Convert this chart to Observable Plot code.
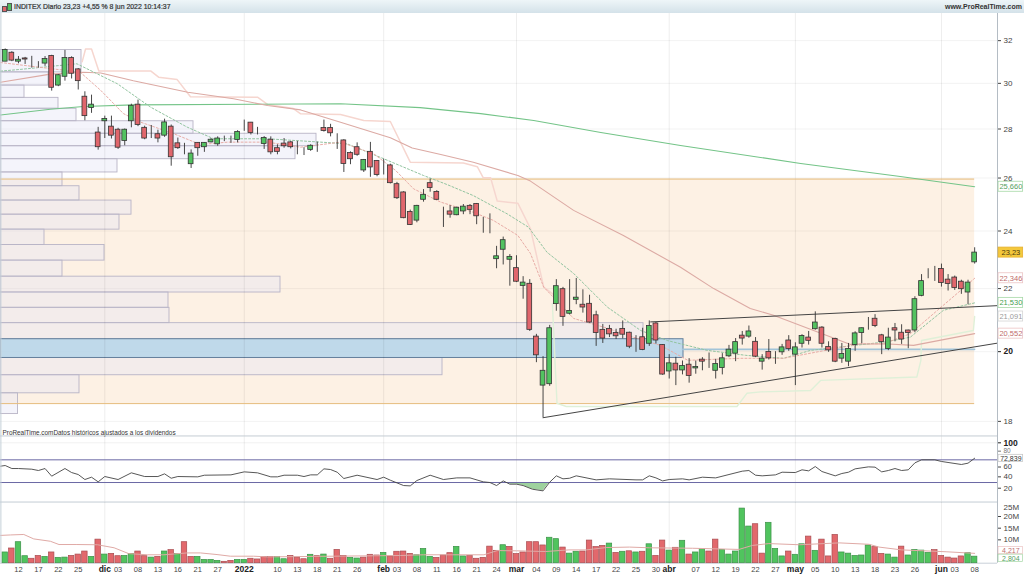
<!DOCTYPE html>
<html><head><meta charset="utf-8">
<script src="https://cdn.jsdelivr.net/npm/d3@7"></script>
<script src="https://cdn.jsdelivr.net/npm/@observablehq/plot@0.6"></script>
<style>
html,body{margin:0;padding:0;background:#fff;width:1024px;height:576px;overflow:hidden;font-family:"Liberation Sans",sans-serif}
#hdr{position:relative;height:13px;background:linear-gradient(#eef5f8,#d4e2e9);line-height:12px;color:#333}
#hdr .t{position:absolute;left:14px;top:0.5px;white-space:nowrap;font-size:6.9px;-webkit-text-stroke:.2px #333}
#hdr .w{position:absolute;right:2px;top:0.5px;white-space:nowrap;font-size:7px;font-weight:bold}
#hdr i{position:absolute;display:block;border:0.5px solid #555}
svg{display:block}
</style></head><body>
<div id="hdr"><i style="left:2px;top:6px;width:3px;height:4px;background:#e0656a"></i><i style="left:7px;top:3px;width:3px;height:6px;background:#50c060"></i>
<span class="t">INDITEX Diario 23,23 +4,55 % 8 jun 2022 10:14:37</span><span class="w">www.ProRealTime.com</span></div>
<div id="chart"></div>
<script>
// ---- candles (index 0..146) ----
const opens=[31.0,31.42,31.0,31.15,31.13,30.9,30.91,31.27,29.9,30.3,31.17,30.64,29.4,28.9,27.85,28.33,28.1,27.97,27.5,28.33,29.05,28.05,27.74,27.78,27.72,28.1,27.4,27.18,26.55,27.42,27.24,27.44,27.36,27.6,27.6,27.54,27.99,28.27,27.85,27.37,27.55,27.2,27.39,27.44,27.28,27.13,27.13,27.24,28.04,28.04,27.5,
27.52,27.0,27.24,26.3,27.05,26.68,26.4,26.5,25.76,25.44,24.7,24.38,25.16,25.8,25.46,24.79,24.72,24.58,24.72,24.93,25.0,24.08,24.06,23.0,23.33,22.98,22.69,22.09,22.16,20.46,19.0,19.04,21.49,21.98,21.18,21.63,21.47,21.5,21.13,20.67,20.7,20.57,20.7,20.58,20.3,20.44,20.24,20.87,20.2,
19.41,19.64,19.44,19.61,19.5,19.76,19.66,19.43,19.51,19.86,19.94,20.49,20.46,20.3,19.7,19.99,19.82,19.98,20.34,19.91,20.24,20.43,20.69,20.74,20.14,20.39,19.79,19.7,20.2,20.57,20.9,21.02,20.5,20.08,20.72,20.58,20.65,20.65,21.76,22.47,22.35,22.66,22.3,22.37,22.23,21.87,22.89];
const highs=[31.6,31.47,31.24,31.2,31.25,31.0,31.24,31.3,30.4,31.53,31.23,30.68,29.62,29.47,28.07,28.55,28.55,28.03,28.0,29.07,29.25,28.12,28.15,27.95,28.42,28.17,27.62,27.4,27.13,27.43,27.43,27.6,27.67,27.7,27.7,27.93,28.38,28.28,28.07,27.68,27.67,27.34,27.6,27.48,27.48,27.22,27.34,27.45,28.38,28.2,27.8,
27.55,27.05,27.42,26.74,27.44,26.7,26.75,26.55,25.83,25.47,24.77,24.95,25.55,25.96,25.51,24.88,24.94,24.88,24.98,24.98,25.02,24.5,24.63,23.45,23.78,23.16,23.12,22.4,22.3,20.53,19.85,20.81,22.3,22.04,22.3,22.34,21.96,21.78,21.26,20.84,20.81,20.69,20.95,20.6,20.49,20.72,20.95,20.9,20.21,
19.91,19.83,19.72,19.79,19.72,19.82,19.96,19.77,19.94,20.19,20.4,20.62,20.79,20.43,19.91,20.37,20.0,20.22,20.49,20.27,20.52,20.62,21.24,20.77,20.3,20.41,20.25,20.25,20.61,20.73,21.06,21.15,20.53,20.72,20.87,20.83,20.66,21.73,22.47,22.67,22.75,22.83,22.47,22.42,22.28,22.28,23.4];
const lows=[31.0,31.0,30.9,30.87,30.7,30.7,30.78,29.65,29.85,30.1,30.2,29.7,28.35,28.67,27.12,27.6,27.58,27.15,27.3,28.05,28.1,27.55,27.6,27.42,27.65,26.47,27.15,26.93,26.38,26.87,27.03,27.42,27.28,27.47,27.4,27.42,27.9,27.75,27.75,27.15,26.93,26.93,27.2,27.17,26.93,26.9,27.07,27.03,27.87,27.67,27.15,
26.22,26.53,26.87,26.22,26.03,26.05,26.12,25.77,25.17,24.45,24.2,24.3,25.07,25.45,25.13,24.13,24.47,24.56,24.6,24.6,24.23,23.92,23.9,22.67,22.8,22.08,22.2,21.65,20.62,19.67,18.1,18.98,21.26,20.78,21.14,21.47,21.2,20.88,20.16,20.25,20.43,20.37,20.39,20.09,19.98,20.03,20.16,20.23,19.3,
19.19,19.0,19.31,19.07,19.33,19.43,19.5,19.19,19.31,19.82,19.7,20.2,20.41,19.82,19.45,19.75,19.62,19.89,20.01,19.0,20.11,20.2,20.66,20.11,19.98,19.67,19.65,19.55,20.01,20.24,20.66,20.74,19.91,20.03,20.3,20.22,20.09,20.58,21.73,22.33,22.24,22.05,21.92,21.94,21.81,21.47,22.83];
const closes=[31.55,31.05,31.09,31.1,31.13,30.9,31.12,29.8,30.37,31.17,30.44,30.1,28.55,29.05,27.24,28.43,27.72,27.22,27.97,29.0,28.17,27.6,27.74,27.6,28.28,26.83,27.2,27.18,26.98,27.2,27.42,27.55,27.6,27.6,27.6,27.87,27.99,27.83,27.85,27.62,27.03,27.05,27.28,27.24,27.28,27.13,27.3,27.24,27.92,27.82,27.5,
26.56,26.75,26.93,26.72,26.42,26.12,26.4,25.8,25.22,24.47,24.22,24.93,25.35,25.61,25.16,24.79,24.6,24.86,24.9,24.78,24.54,24.08,24.06,23.1,23.67,23.08,22.23,22.2,20.67,19.89,19.43,20.72,22.08,21.08,21.27,21.7,21.38,20.9,20.57,20.4,20.53,20.47,20.52,20.15,20.3,20.05,20.79,20.34,19.32,
19.65,19.44,19.57,19.28,19.54,19.7,19.66,19.63,19.8,20.06,20.29,20.4,20.62,19.85,19.79,19.8,19.82,20.13,20.08,20.13,20.48,20.33,20.9,20.24,20.04,19.7,19.93,20.08,20.56,20.72,20.9,20.79,20.29,20.43,20.65,20.37,20.57,21.65,22.25,22.47,22.35,22.19,22.15,22.02,21.98,22.2,23.23];
// ---- volume (millions) ----
const volumes=[4.6,6.3,9.0,3.0,1.9,3.1,2.7,4.6,2.3,2.4,3.1,3.7,5.0,2.7,10.1,3.7,4.0,3.0,3.1,4.0,5.0,3.0,2.4,2.7,5.0,5.6,3.9,9.0,2.7,2.7,1.4,1.4,1.0,0.6,1.0,1.4,1.4,1.9,1.6,2.6,2.6,2.6,1.7,3.1,2.4,1.7,3.6,3.0,3.7,1.9,5.7,3.1,2.3,2.0,2.4,3.6,3.3,4.4,2.9,4.9,5.0,4.0,3.4,6.1,2.7,2.3,3.3,4.3,7.0,2.9,3.1,1.9,2.3,7.1,5.3,7.7,7.0,
3.9,4.6,9.0,9.0,7.6,10.9,10.3,6.7,4.1,4.9,5.0,9.7,6.9,7.4,8.4,4.4,4.9,5.1,4.6,4.9,8.1,3.1,9.7,5.4,6.6,9.6,3.7,4.6,6.0,5.0,10.1,5.7,3.7,5.0,23.4,15.7,16.7,4.1,17.3,6.1,2.9,5.0,3.6,8.1,11.4,5.3,10.1,2.9,12.1,4.6,4.1,3.1,3.3,7.6,6.9,4.0,3.7,2.4,7.1,3.3,5.7,5.4,4.4,5.6,3.1,2.4,2.0,2.9,4.3,2.8];
const volUp=[1,0,1,1,0,0,1,0,1,1,0,0,0,1,0,1,0,0,1,1,0,0,1,0,1,0,1,0,0,1,1,1,1,0,0,1,1,0,0,0,0,1,1,0,0,0,1,0,1,0,0,0,1,1,0,0,0,1,0,0,0,0,1,1,1,0,0,0,1,1,0,0,0,0,0,1,0,
0,0,0,0,0,1,1,0,1,1,0,0,0,0,1,0,1,0,1,0,1,0,0,1,0,1,0,1,1,0,0,1,1,1,1,1,0,0,1,1,1,0,1,1,0,1,0,0,0,1,1,1,1,1,0,0,1,1,0,1,1,1,1,0,0,0,0,0,1,1];
const volMaI=[-0.7,0.8,2.8,4.3,6.8,8.1,10.8,13.9,16.4,18.6,21.4,23.9,27.4,29.4,31.9,33.9,37.4,39.5,59.5,63,72.1,74.1,77,81.4,84.9,87.5,90.5,94,97,103.5,110.5,112.5,115,119.6,125.6,130.1,131.6,135,141.7,146];
const volMaV=[11.9,12.1,12.3,10.4,9.4,8,8,7.9,6.6,4.1,3.6,3.6,4.4,4.4,3.7,3,3,2.7,3.3,3.6,3.6,5.4,5.3,5,5.7,5.7,6.7,6.9,6.6,6.4,5.9,7.6,8.4,7.9,8.7,8.1,6.9,5.7,4.9,4.217];
// ---- RSI ----
const rsiI=[-0.7,0,1,2,4,5,6,7,9,10,11,12,13,14,15,17,19,21,23,24,25,26,29,30,34,36,38,40,41,42,44,45,46,47,48,49,50,51,53,56,57,58,60,61,62,64,66,68,70,72,73,74,75,76,77,78,79.4,81,82,83,84,85,86,89,91,95,96,97,98,99,100,102,103,105,107,109,111,112,113,114,116,117,119,120,121,122,123,125,126,127,128,130,131,132,133,134,135,136,137,138,140,141,144,145,146];
const rsiV=[58.8,60,54.7,54.7,53.5,51.2,54.7,41.2,54.7,47.6,44.1,35.3,39.4,31.2,40.6,35.3,47.1,40.6,40.6,45.3,37.6,40.6,40,42.9,43.5,48.8,47.1,40,40,42.9,42.9,40.6,43.5,43.5,54.1,52.9,48.2,37.1,42.9,35.3,39.4,34.1,24.7,24.1,33.5,42.9,35.3,38.2,38.2,31.2,30,24.7,32.9,27.1,27.1,24.7,18.2,15.3,30.6,41.8,36.5,37.6,41.8,34.7,36.5,34.7,34.7,41.8,38.2,32.9,35.3,36.5,34.7,39.4,38.2,44.1,50,51.2,42.9,41.8,43.5,48.2,47.6,52.4,50.6,58.2,49.4,41.8,45.9,48.2,54.1,57.6,57.1,48.8,51.2,54.7,51.2,52.4,64.7,70,70,67.1,61.8,64.1,72.84];
// ---- moving averages on price ----
const sma200I=[-0.7,6.8,11.8,19.3,50.5,62.5,71.6,79.6,89.7,101.7,119.8,134.8,146];
const sma200V=[28.6,28.85,28.97,29.04,29.09,28.92,28.66,28.36,27.85,27.31,26.58,26.06,25.66];
const sma100I=[-0.7,6.8,11.8,14.4,19.3,27.5,34.4,39.5,44.5,50.5,58,61.3,65.6,70.5,77.2,79.1,85.6,93.1,101.7,106.7,112.2,115.7,127.3,132.3,136.8,146];
const sma100V=[30.05,30.42,30.51,30.47,30.12,29.6,29.31,29.01,28.82,28.29,27.63,27.21,26.94,26.63,26.1,25.88,24.76,23.84,22.72,22,21.35,21.13,20.22,20.24,20.19,20.552];
const ema50I=[-0.7,2.3,10.8,16.9,21.9,27.4,31.4,39.5,47.5,51.5,57,63,66.6,70.5,75.6,78.8,81.6,85.6,90.7,95.7,99.7,105.7,111.5,117.2,121.3,132.3,136.3,141.3,146];
const ema50V=[30.56,30.64,30.9,29.98,28.94,28.08,27.59,27.59,27.45,27.38,26.77,26.1,25.74,25.32,24.63,24.14,23.24,22.51,21.39,20.65,20.34,20.04,19.89,19.8,20.04,20.29,20.44,21.29,21.53];
const ema20I=[-0.7,11.3,14.4,17.8,20.4,25.3,29.4,33.5,39.5,44.5,50.5,55.5,58.8,61.5,65.6,70.5,73.5,77.2,79.1,81.1,85.6,90.7,94.6,98.7,102.8,110.7,117.2,128.8,132.3,136.3,140.4,143.9,146];
const ema20V=[30.96,30.51,29.68,28.66,28.29,27.81,27.35,27.45,27.45,27.24,27.45,26.97,26.3,25.58,25.07,24.69,24.39,23.84,23.2,22.05,21.03,20.72,20.44,20.19,19.74,19.8,19.8,20.24,20.24,20.55,21.29,21.94,22.346];
const stopDownI=[11.6,12.1,13,14.1,21.9,23.1,25.9,27.9,38,39.5,43.4,44.5,50.5,54,58,61,69,71.1,72,73.1,74.1,77.2,79.1,81.1,83.2];
const stopDownV=[31,31.6,31.6,30.57,30.57,30.28,30.17,29.4,29.38,29.06,28.88,28.65,28.62,28.36,28.32,26.63,26.6,26.45,26.01,26.01,25.11,25.03,24.09,22.05,21.7];
const stopUpI=[82.4,83.1,84.5,110.2,111.7,113.8,121.3,122.8,137.3,137.9,138,145.8,146];
const stopUpV=[21.51,18.5,18.41,18.41,18.78,18.82,18.86,19.15,19.25,19.74,20.34,20.65,21.09];
// ---- drawn lines and zones ----
const topLineI=[97.2,149.44], topLineV=[20.92,21.44];
const lowLineI=[81,149.44], lowLineV=[18.1,20.26];
const pocLineI=[102,146], pocLineV=[20.07,20.07];
const bandTop=25.96, bandBottom=18.49, bandEnd=146;
// ---- volume profile, price edges from top to bottom and relative size ----
const profileEdges=[31.55,30.5,29.9,29.35,28.87,28.33,27.8,27.28,26.75,26.22,25.68,25.13,24.6,24.05,23.5,22.95,22.4,21.87,21.37,20.88,20.38,19.81,19.3,18.78,18.2];
const profileSizes=[81,48,24,58,76,193,316,295,117,62,79,131,119,44,104,62,280,168,169,643,683,442,79,17.5];
const pocRow=20, pocInner=328;
// ---- axes ----
const yTicks=[32,30,28,26,24,22,18], yBold=[20];
const monthIdx=[15,36,57,77,100,119,141], monthLabels=["dic","2022","feb","mar","abr","may","jun"];
const dayIdx=[2,5,8,11,17,20,23,26,29,32,41,44,47,50,53,59,62,65,68,71,74,80,83,86,89,92,95,98,104,107,110,113,116,122,125,128,131,134,137,143,146];
const dayLabels=["12","17","22","25","03","08","13","16","21","27","10","13","18","21","26","03","08","11","16","21","24","04","09","14","17","22","25","30","07","12","19","22","27","05","10","13","18","23","26","03","08"];
const priceTags=[
 {v:25.66,t:"25,660",s:"#a6d8a6",f:"#fff",c:"#55a060"},
 {v:23.23,t:"23,23",s:"#e6b030",f:"#f4c83c",c:"#4a3a10"},
 {v:22.346,t:"22,346",s:"#ecc4c4",f:"#fff",c:"#c06c6c"},
 {v:21.53,t:"21,530",s:"#a6d8a6",f:"#fff",c:"#45a050"},
 {v:21.091,t:"21,091",s:"#d4d4d4",f:"#fff",c:"#9a9a9a"},
 {v:20.552,t:"20,552",s:"#ecc4c4",f:"#fff",c:"#c06c6c"}];
const volTags=[{y:5.4,t:"4,217",c:"#c07070",s:"#ecc4c4"},{y:2.1,t:"2,804",c:"#55a060",s:"#a6d8a6"}];

const W=1024, xDom=[-0.708,149.44], axisI=149.44, font='"Liberation Sans",sans-serif';
const pts=(I,V)=>I.map((i,k)=>({i,v:V[k]}));
const candles=opens.map((o,i)=>({i,o,h:highs[i],l:lows[i],c:closes[i]}));
const base={width:W,marginLeft:0,marginRight:27,marginTop:0,marginBottom:0,style:{fontFamily:font,background:"transparent",overflow:"visible"}};
const grid=()=>Plot.ruleX(monthIdx,{stroke:"#000",strokeOpacity:.07});
const edgeLines=()=>[Plot.ruleX([axisI],{stroke:"#b4bcc4"}),Plot.ruleX([xDom[0]+0.06],{stroke:"#c4d0d8"})];

const rows=profileSizes.map((w,k)=>({top:profileEdges[k],bot:profileEdges[k+1],x2:xDom[0]+w/6.64,k}));
const plain=rows.filter(r=>r.k!==pocRow), poc=rows.filter(r=>r.k===pocRow);
const tagK=1.0076;

const main=Plot.plot({...base,height:422,
 x:{domain:xDom,axis:null},
 y:{type:"log",domain:[17.62,33.34],axis:null},
 marks:[
  Plot.rect([0],{x1:xDom[0],x2:bandEnd,y1:bandBottom,y2:bandTop,fill:"#fdf1e4"}),
  Plot.ruleY([...yTicks,...yBold],{stroke:"#000",strokeOpacity:.05}),
  Plot.rect(plain,{x1:xDom[0],x2:"x2",y1:"bot",y2:"top",fill:"#e4e4f6",fillOpacity:.42,stroke:"#b8b4c6",strokeWidth:.9}),
  Plot.rect(poc,{x1:xDom[0],x2:"x2",y1:"bot",y2:"top",fill:"#b8d6ea",fillOpacity:.9,stroke:"#64809c",strokeWidth:1}),
  Plot.rect(poc,{x1:xDom[0]+pocInner/6.64,x2:xDom[0]+pocInner/6.64,y1:"bot",y2:"top",stroke:"#4a6a90"}),
  grid(),
  Plot.ruleY([bandTop,bandBottom],{x1:xDom[0],x2:bandEnd,stroke:"#e6bc7c",strokeWidth:1}),
  Plot.line(pts(pocLineI,pocLineV),{x:"i",y:"v",stroke:"#a2c4d8",strokeWidth:1.6}),
  Plot.line(pts(stopUpI,stopUpV),{x:"i",y:"v",stroke:"#dff0d8",strokeWidth:1.4}),
  Plot.line(pts(stopDownI,stopDownV),{x:"i",y:"v",stroke:"#f6d6cf",strokeWidth:1.5}),
  Plot.line(pts(sma200I,sma200V),{x:"i",y:"v",stroke:"#74c488",strokeWidth:1.1}),
  Plot.line(pts(sma100I,sma100V),{x:"i",y:"v",stroke:"#dcaaa4",strokeWidth:1.1}),
  Plot.line(pts(ema50I,ema50V),{x:"i",y:"v",stroke:"#92c4a0",strokeWidth:1,strokeDasharray:"2,2"}),
  Plot.line(pts(ema20I,ema20V),{x:"i",y:"v",stroke:"#e8aca6",strokeWidth:1,strokeDasharray:"2,2"}),
  Plot.line(pts(topLineI,topLineV),{x:"i",y:"v",stroke:"#444",strokeWidth:1}),
  Plot.line(pts(lowLineI,lowLineV),{x:"i",y:"v",stroke:"#444",strokeWidth:1}),
  Plot.ruleX(candles,{x:"i",y1:"l",y2:"h",stroke:"#333",strokeWidth:.9}),
  Plot.rect(candles,{x1:d=>d.i-.36,x2:d=>d.i+.36,y1:d=>Math.min(d.o,d.c),y2:d=>Math.max(d.o,d.c),
     fill:d=>d.c>d.o?"#52c260":"#e0666c",stroke:"#333",strokeWidth:.8}),
  ...edgeLines(),
  Plot.axisY({anchor:"right",ticks:yTicks,tickFormat:d=>d,tickSize:3,tickPadding:3,label:null,fontSize:8,color:"#444"}),
  Plot.axisY({anchor:"right",ticks:yBold,tickFormat:d=>d,tickSize:3,tickPadding:3,label:null,fontSize:8.5,fontWeight:"bold",color:"#222"}),
  Plot.rect(priceTags,{x1:()=>149.6,x2:()=>153.3,y1:d=>d.v/tagK,y2:d=>d.v*tagK,fill:d=>d.f,stroke:d=>d.s,strokeWidth:.8}),
  Plot.text(priceTags,{x:()=>151.45,y:"v",text:"t",fill:d=>d.c,fontSize:7.5}),
  Plot.text(["ProRealTime.comDatos históricos ajustados a los dividendos"],{frameAnchor:"bottom-left",dx:2,dy:-0.5,fontSize:6.4,fill:"#333"})
 ]});

const rsiLow=pts(rsiI,rsiV).filter(d=>d.i>=76&&d.i<=82);
const rsiDom=[-5.2,112.9];
const rsi=Plot.plot({...base,height:67,
 x:{domain:xDom,axis:null},
 y:{domain:rsiDom,axis:null},
 marks:[
  grid(),
  Plot.ruleY([100],{stroke:"#000",strokeOpacity:.06}),
  Plot.ruleY([rsiDom[1]-.8,rsiDom[0]+.8],{stroke:"#c4ccd4",strokeWidth:1}),
  Plot.areaY(rsiLow,{x:"i",y1:d=>Math.min(d.v,30),y2:()=>30,fill:"#9ed29e"}),
  Plot.ruleY([70,30],{stroke:"#6a68a4",strokeWidth:1}),
  Plot.line(pts(rsiI,rsiV),{x:"i",y:"v",stroke:"#444",strokeWidth:.9}),
  ...edgeLines(),
  Plot.axisY({anchor:"right",ticks:[40,20],tickSize:3,tickPadding:3,label:null,fontSize:8,color:"#444"}),
  Plot.axisY({anchor:"right",ticks:[60],tickSize:3,tickPadding:3,label:null,fontSize:7.5,dy:1.5,color:"#444"}),
  Plot.axisY({anchor:"right",ticks:[80],tickSize:3,tickPadding:3,label:null,fontSize:6.5,dy:-3,color:"#777"}),
  Plot.axisY({anchor:"right",ticks:[100],tickSize:3,tickPadding:3,label:null,fontSize:8.5,fontWeight:"bold",color:"#222"}),
  Plot.rect([72.6],{x1:()=>149.6,x2:()=>153.3,y1:d=>d-6.2,y2:d=>d+6.2,fill:"#fff",stroke:"#c8c8c8",strokeWidth:.8}),
  Plot.text([72.6],{x:()=>151.45,y:d=>d,text:()=>"72,839",fill:"#333",fontSize:7})
 ]});

const bars=volumes.map((v,i)=>({i,v,up:volUp[i]}));
const vol=Plot.plot({...base,height:74,marginBottom:13.3,
 x:{domain:xDom,axis:null},
 y:{domain:[0,26],axis:null},
 marks:[
  grid(),
  Plot.ruleY([0],{stroke:"#c8d0d8"}),
  Plot.rect(bars,{x1:d=>d.i-.41,x2:d=>d.i+.41,y1:()=>0,y2:"v",fill:d=>d.up?"#50c45e":"#e2686c",stroke:d=>d.up?"#3c9048":"#a84c50",strokeWidth:.7}),
  Plot.line(pts(volMaI,volMaV),{x:"i",y:"v",stroke:"#e0aaa6",strokeWidth:1}),
  ...edgeLines(),
  Plot.axisY({anchor:"right",ticks:[10,15,20],tickFormat:d=>d+"M",tickSize:3,tickPadding:3,label:null,fontSize:8,color:"#444"}),
  Plot.text([{y:23.7,t:"25M"}],{x:()=>149.44,dx:6,y:"y",text:"t",textAnchor:"start",fontSize:8,fill:"#444"}),
  Plot.rect(volTags,{x1:()=>149.6,x2:()=>153.3,y1:d=>d.y-1.55,y2:d=>d.y+1.55,fill:"#fff",stroke:"s",strokeWidth:.7}),
  Plot.text(volTags,{x:()=>151.45,y:"y",text:"t",fontSize:7,fill:"c"}),
  Plot.axisX({anchor:"bottom",ticks:dayIdx,tickFormat:d=>dayLabels[dayIdx.indexOf(d)],tickSize:0,tickPadding:3,label:null,fontSize:7.5,color:"#444"}),
  Plot.axisX({anchor:"bottom",ticks:monthIdx,tickFormat:d=>monthLabels[monthIdx.indexOf(d)],tickSize:0,tickPadding:3,label:null,fontSize:8.5,fontWeight:"bold",color:"#222"})
 ]});

document.getElementById("chart").append(main,rsi,vol);
</script>
</body></html>
